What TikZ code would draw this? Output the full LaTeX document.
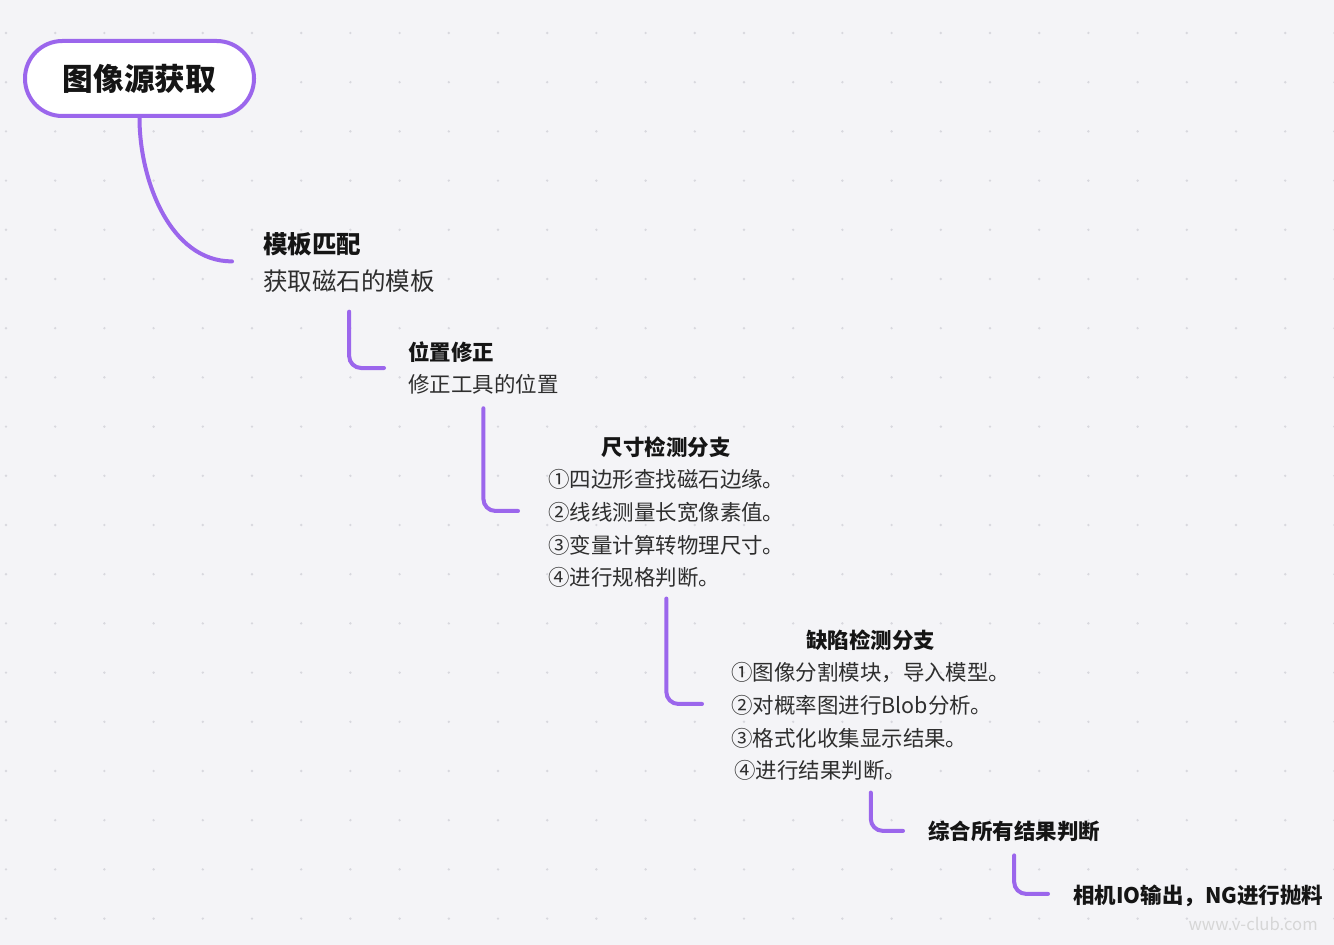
\documentclass[tikz,border=0pt]{standalone}
\usepackage{fontspec}
\setmainfont{Noto Sans CJK SC}
\usetikzlibrary{calc}
\definecolor{bg}{HTML}{F4F4F7}
\definecolor{dotc}{HTML}{D8D8DE}
\definecolor{vio}{HTML}{9B66EC}
\definecolor{ink}{HTML}{151515}
\definecolor{bodyc}{HTML}{2E2E2E}
\newcommand\mmroot{\fontsize{23pt}{28pt}\selectfont}
\newcommand\mmone{\fontsize{18.4pt}{27.75pt}\selectfont}
\newcommand\mmtwo{\fontsize{16.1pt}{24pt}\selectfont}
\newcommand\mmlist{\fontsize{16.1pt}{24.4pt}\selectfont}
\begin{document}
\begin{tikzpicture}[x=0.75pt,y=-0.75pt,
  rootbox/.style={draw=vio, line width=3pt, fill=white, rounded corners=28pt,
    minimum width=171.75pt, minimum height=56.25pt, inner sep=0pt, text=ink},
  topic/.style={anchor=base west, inner sep=0pt, text=ink},
  conn/.style={draw=vio, line width=3pt, line cap=round, rounded corners=9pt},
  curveconn/.style={draw=vio, line width=3pt, line cap=round}]
\fill[bg] (0,0) rectangle (1334,945);
\useasboundingbox (0,0) rectangle (1334,945);
\foreach \i in {0,...,27}{
  \foreach \j in {0,...,18}{
    \fill[dotc] ({6+49.2*\i},{33+49.2*\j}) circle[radius=1pt];
  }
}
% nodes
\node[rootbox] (root) at (139.5,78.5) {\mmroot\bfseries 图像源获取};
\node[topic] (n1) at (263,253.3) {\mmone\begin{tabular}[t]{@{}l@{}}\bfseries 模板匹配\\ \color{bodyc}获取磁石的模板\end{tabular}};
\node[topic] (n2) at (408,360.4) {\mmtwo\begin{tabular}[t]{@{}l@{}}\bfseries 位置修正\\ \color{bodyc}修正工具的位置\end{tabular}};
\node[topic] (n3) at (548,455.4) {\mmlist\begin{tabular}[t]{@{}l@{}}\multicolumn{1}{@{}c@{}}{\bfseries 尺寸检测分支}\\
  \color{bodyc}①四边形查找磁石边缘。\\
  \color{bodyc}②线线测量长宽像素值。\\
  \color{bodyc}③变量计算转物理尺寸。\\
  \color{bodyc}④进行规格判断。\end{tabular}};
\node[topic] (n4) at (731,648.4) {\mmlist\begin{tabular}[t]{@{}l@{}}\multicolumn{1}{@{}c@{}}{\bfseries 缺陷检测分支}\\
  \color{bodyc}①图像分割模块，导入模型。\\
  \color{bodyc}②对概率图进行Blob分析。\\
  \color{bodyc}③格式化收集显示结果。\\
  \color{bodyc}\hspace{2.2pt}④进行结果判断。\end{tabular}};
\node[topic] (n5) at (928,839.4) {\mmlist\begin{tabular}[t]{@{}l@{}}\bfseries 综合所有结果判断\end{tabular}};
\node[topic] (n6) at (1073,903.4) {\mmlist\begin{tabular}[t]{@{}l@{}}\bfseries 相机IO输出，NG进行抛料\end{tabular}};
\node[anchor=east, inner sep=0pt, text=gray!32, font=\fontsize{12.5pt}{14pt}\selectfont] (wm) at (1318,924) {www.v-club.com};
% connector end points
\coordinate (e1) at ($(n1.west)+(-31,-3)$);
\coordinate (e2) at ($(n2.west)+(-24,-2)$);
\coordinate (e3) at ($(n3.west)+(-30,-3)$);
\coordinate (e4) at ($(n4.west)+(-29,-3)$);
\coordinate (e5) at ($(n5.west)+(-25,-2)$);
\coordinate (e6) at ($(n6.west)+(-25,-3)$);
% connectors
\draw[curveconn] (root.south) .. controls +(0,62) and +(-62,0) .. (e1);
\draw[conn] ($(n1.south)+(0,10)$) |- (e2);
\draw[conn] ($(n2.south)+(0,6)$) |- (e3);
\draw[conn] ($(n3.south)+(0,3)$) |- (e4);
\draw[conn] ($(n4.south)+(0,4)$) |- (e5);
\draw[conn] ($(n5.south)+(0,6)$) |- (e6);
\end{tikzpicture}
\end{document}
